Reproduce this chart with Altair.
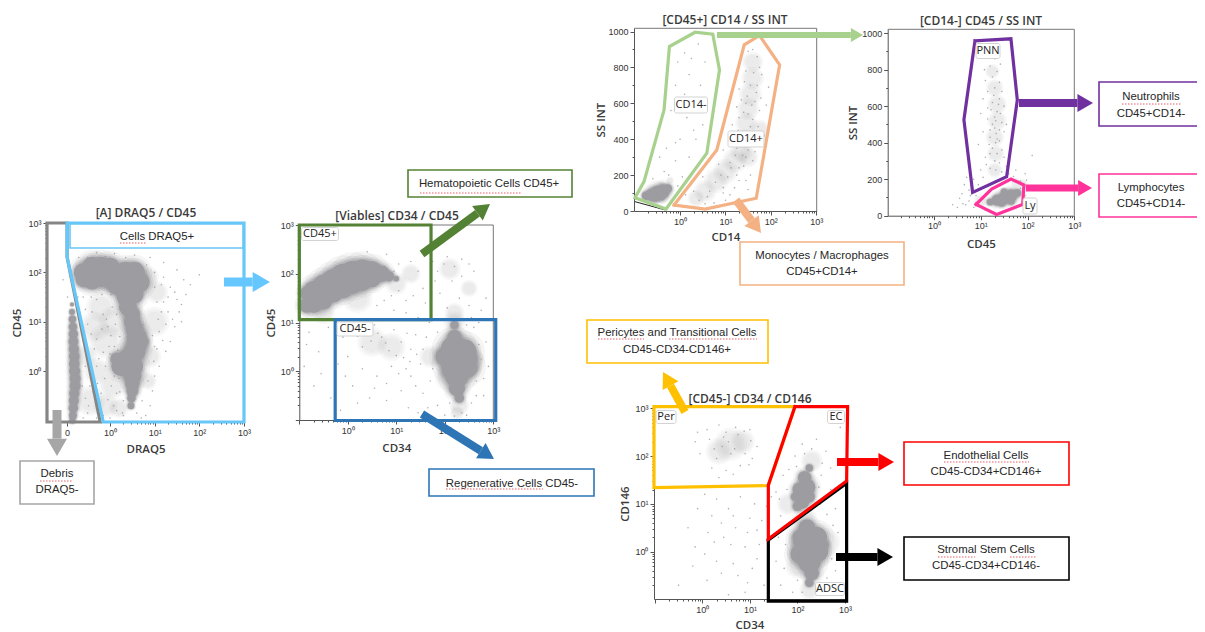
import math
import altair as alt
import pandas as pd

W, H = 1189, 624
DENSE_GREY = "#9c9ca1"
MINOR = [0.301, 0.477, 0.602, 0.699, 0.778, 0.845, 0.903, 0.954]

# ---------- event clouds: x, y, density weight (log10 decades; SS INT in linear units) ----------
a_dense = [(-.6,2.0,200),(-.6,1.85,120),(-.4,2.1,250),(-.4,1.85,220),(-.2,2.1,250),(-.2,1.9,220),(0,2.1,220),(0,1.85,200),
           (.2,1.95,200),(.35,2.0,250),(.55,2.0,250),(.65,1.8,250),(.45,1.75,280),(.25,1.7,200),(.55,1.55,180),(.35,1.5,180),
           (.1,1.7,100),(.4,1.3,180),(.5,1.15,140),(.5,1.0,160),(.55,.85,180),(.6,.7,220),(.6,.55,240),(.55,.4,260),(.4,.25,240),
           (.25,.1,220),(.15,.25,90),(.5,.1,260),(.5,-.1,180),(.5,-.25,120),(.5,-.4,80),(.48,-.55,40),(.47,-.7,25),(.75,.6,60),
           (-.85,1.35,8),(-.85,1.2,18),(-.84,1.05,30),(-.83,.9,40),(-.82,.75,50),(-.82,.6,55),(-.81,.45,60),(-.8,.3,65),
           (-.8,.15,65),(-.79,0,70),(-.78,-.15,70),(-.78,-.3,70),(-.8,-.45,60),(-.81,-.6,55),(-.82,-.75,50),(-.83,-.9,35),(-.84,-1.0,20)]
a_soft = [(-.35,.9,900),(-.1,.6,1200),(-.2,1.3,900),(-.3,0,700),(-.45,-.6,900),(.05,-.3,700),(1,1,900),
          (.9,.3,500),(1.05,1.6,500),(.1,1.0,1000),(.85,1.9,500),(.85,-.2,300),(-.55,.3,500),(-.1,-.7,600),(.2,-.75,400)]
a_specks = [(1.2,1.9),(1.35,1.7),(1.5,1.45),(1.55,1.2),(1.6,1.0),(1.45,.9),(1.3,1.2),(1.2,1.4),(1.1,.8),(1.35,.6),
            (1.25,.4),(1.1,.1),(1.0,-.1),(.95,-.4),(.9,-.7),(.8,-.9),(.7,-.95),(.3,-.9),(.15,-.8),(0,-.95),
            (-.15,-.9),(-.3,-.95),(-.5,-.85),(-.6,-.95),(-.45,-.3),(-.55,.1),(-.35,.45),(-.55,.6),(-.25,.25),(-.1,.1),
            (0,.35),(.1,.5),(-.05,.9),(.15,1.15),(-.15,1.15),(-.4,1.2),(-.3,1.45),(.05,1.3),(-.6,1.5),(1.7,1.55),
            (1.8,1.75),(1.65,1.85),(2.0,1.95),(1.5,2.05),(1.2,2.2),(.9,2.3),(.55,2.35),(.1,2.38),(-.3,2.4),(-.7,2.3),
            (-1.05,1.85),(-.95,1.5),(-.68,1.05),(-.62,-.3),(.15,-.45),(.2,-.15),(-.2,-.45),(.3,-.6),(.75,.95),(1.0,.5),
            (-.5,.95),(-.42,.75),(-.3,.65),(-.18,.85),(-.08,1.05),(.02,.72),(.12,.95),(.22,.7),(.18,.42),(-.02,.5),(-.15,.38),
            (-.3,.1),(-.42,-.1),(-.55,-.55),(-.48,-.7),(-.38,-.42),(-.28,-.25),(-.12,-.15),(.03,-.3),(.1,-.1),(-.05,-.58),
            (-.22,-.65),(.08,-.7),(.22,-.42),(.28,-.85),(.6,-.85),(.72,-.6),(.85,-.2),(.98,.2),(1.05,.45),(1.18,.62),(.95,.72),
            (1.08,1.05),(1.25,.95),(1.4,1.05),(1.15,1.2),(1.05,1.4),(1.3,1.5),(1.45,1.6),(1.6,1.35),(1.0,1.7),(1.15,1.75),
            (1.0,2.0),(.82,2.15),(.35,2.3),(-.1,2.32),(-.5,2.3),(-.72,1.5),(.02,1.55),(-.18,1.55),(-.42,1.5),(-.55,1.25)]

b_dense = [(-.85,1.6,100),(-.85,1.35,120),(-.7,1.65,230),(-.7,1.4,220),(-.5,1.75,280),(-.5,1.45,180),(-.3,1.85,320),(-.3,1.6,200),
           (-.1,1.95,350),(-.1,1.7,220),(.1,2.0,380),(.1,1.8,240),(.3,2.05,320),(.3,1.85,220),(.5,2.05,240),(.5,1.9,170),(.7,2.0,150),
           (.85,1.95,60),(1.0,1.9,15),(2.0,.3,200),(2.2,.45,420),(2.2,.15,420),(2.4,.4,350),(2.4,.1,380),(2.25,-.1,300),(2.5,.25,160),
           (2.1,0,120),(2.25,-.35,150),(2.3,-.55,50),(2.2,.7,120),(2.2,.95,40),(2.55,.05,80)]
b_soft = [(2.2,1.2,400),(2.1,-.1,900),(2.3,-.7,400),(2.6,.2,500),(1.7,.3,500),(.5,.6,900),(.9,.5,800),(1.3,2.0,400),
          (2.1,2.1,500),(1.0,1.8,500),(2.5,1.7,300),(.2,1.5,900),(-.5,1.2,500),(2.2,1.0,500),(2.25,-.85,200)]
b_specks = [(-.8,.8),(-.6,.4),(-.9,.1),(-.7,-.3),(-.85,.55),(-.4,.9),(-.1,.7),(.1,.85),(.3,.5),(.55,.95),(.7,.7),
            (.95,.85),(1.1,.6),(1.3,.45),(1.5,.15),(1.2,.05),(.9,.1),(.6,-.1),(.3,.05),(0,.3),(-.2,.15),(.1,-.3),
            (.45,-.55),(.8,-.6),(1.1,-.4),(1.4,-.3),(1.7,-.2),(1.85,-.7),(2.0,-.9),(2.45,-.9),(2.8,-.5),(2.9,.1),
            (2.85,.6),(2.7,1.0),(2.85,1.5),(2.6,2.05),(2.35,2.3),(2.05,2.35),(1.85,2.05),(1.55,1.7),(1.2,1.45),
            (.9,1.55),(.6,1.35),(.4,2.45),(.8,2.4),(1.05,2.2),(1.45,2.05),(1.9,1.6),(2.3,1.5),(2.05,1.3),(2.5,1.35),
            (2.6,.9),(1.85,.8),(1.9,.45),(1.75,.05),(2.65,-.2),(2.55,-.65),(2.1,-.65),(-.35,-.55),(-.15,-.8),
            (.2,.72),(.38,.82),(.48,.62),(.62,.78),(.78,.58),(.85,.42),(1.0,.32),(1.15,.28),(1.28,.2),(1.42,.35),(1.55,.45),
            (1.62,.7),(1.4,.75),(1.22,.78),(1.68,1.0),(1.45,1.1),(1.2,1.2),(.95,1.25),(.75,1.45),(1.05,1.65),(1.35,1.55),
            (1.6,1.4),(1.8,1.85),(2.15,1.85),(2.35,1.95),(2.5,2.2),(2.2,2.15),(1.98,2.2),(1.75,2.25),(1.3,2.25),(.95,2.05),
            (-.05,-.1),(.2,-.65),(.55,-.35),(.8,-.25),(1.05,-.05),(1.3,-.1),(1.55,-.45),(1.65,-.75),(1.25,-.75),(1.45,-.85),
            (2.7,.55),(2.75,.25),(2.8,-.15),(2.65,-.5),(2.35,-.85),(2.2,-.92),(2.75,1.25),(2.55,1.1),(2.45,.95),(-.55,-.05)]

c_dense = [(-.75,85,40),(-.62,90,90),(-.5,100,120),(-.38,110,110),(-.27,125,40),(-.55,75,40),(-.42,85,50)]
c_soft = [(1.35,330,520),(1.4,400,460),(1.45,490,480),(1.5,570,520),(1.55,650,560),(1.6,740,520),(1.6,830,440),(1.2,280,620),
          (1.0,220,640),(.8,170,620),(.55,110,520),(.35,70,300),(1.5,300,420),(1.75,450,460),(-.22,170,60),(-.4,140,80)]
c_specks = [(-.15,930),(.1,880),(.4,930),(.55,830),(.2,760),(-.1,700),(.45,700),(.3,620),(-.2,560),(.15,520),(.5,480),
            (.35,400),(0,400),(-.3,350),(-.45,300),(-.1,280),(.2,300),(-.35,220),(-.6,180),(.05,190),(1.5,890),(1.7,860),
            (1.45,780),(1.8,760),(1.55,700),(1.95,690),(1.3,680),(1.65,610),(1.25,580),(1.75,560),(1.4,550),(1.55,470),
            (1.15,480),(1.85,420),(1.2,420),(1.65,330),(.95,340),(1.8,260),(.85,260),(1.55,200),(.5,190),(1.3,170),(.95,130),
            (.6,80),(1.5,120),(1.1,90),(.3,110),(.75,45),(1.45,300),(1.3,240),(1.6,420),(1.35,620),(1.5,540),(1.7,700),
            (1.9,590),(1.4,440),(1.5,380),(1.25,350),(1.1,270),(.9,200),
            (1.6,900),(1.75,800),(1.62,770),(1.42,720),(1.68,660),(1.48,640),(1.58,590),(1.78,630),(1.3,520),(1.45,600),
            (1.6,510),(1.72,470),(1.28,450),(1.38,410),(1.52,420),(1.42,360),(1.3,370),(1.38,310),(1.5,340),(1.6,280),
            (1.22,310),(1.12,240),(1.4,250),(1.05,190),(1.25,200),(1.45,170),(.78,160),(.95,100),(.65,110),(1.2,130),
            (.42,60),(.55,40),(1.0,60),(.25,150),(-.05,140),(-.25,200),(.12,90),(-.1,380),(.3,450),(.1,650),(-.05,830),(.25,850)]

d_dense = [(1.2,75,25),(1.35,85,70),(1.5,95,90),(1.65,110,90),(1.78,125,35),(1.45,70,30),(1.65,80,30),(1.5,130,25)]
d_soft = [(1.3,250,240),(1.32,340,320),(1.3,430,360),(1.35,520,400),(1.35,610,400),(1.3,700,320),(1.25,790,220),(1.9,170,120),(1.0,80,180),(1.75,180,110)]
d_specks = [(1.2,820),(1.35,790),(1.1,740),(1.3,700),(1.45,680),(1.05,640),(1.25,620),(1.5,600),(1.35,570),(1.15,530),
            (1.45,510),(1.3,480),(1.05,460),(1.2,430),(1.4,410),(1.25,370),(.95,390),(1.35,340),(1.1,320),(1.4,290),
            (1.2,260),(1.0,250),(1.45,240),(1.6,230),(.85,200),(1.75,250),(1.95,230),(2.1,330),(1.85,190),(2.0,150),
            (.65,170),(.6,120),(.4,60),(.55,95),(.75,80),(.85,45),(1.1,30),(.5,45),(.7,210),(2.05,80),(1.15,590),(1.4,640),
            (1.3,540),(1.2,470),(1.35,420),(1.5,460),(1.25,760),(1.15,680),(1.4,730),(1.3,860),
            (1.28,660),(1.38,610),(1.22,580),(1.42,560),(1.32,520),(1.25,500),(1.4,470),(1.33,450),(1.18,390),(1.32,400),
            (1.45,360),(1.2,340),(1.3,300),(1.5,320),(1.12,280),(1.32,250),(1.55,270),(.95,170),(.75,140),(.9,110),(.68,60),
            (1.85,150),(1.95,110),(1.98,195),(1.7,215),(.62,65),(.78,110),(1.05,210),(1.0,560),(1.55,500),(1.08,800),(1.42,830)]

e_dense = [(2.2,.5,160),(2.15,.25,300),(2.4,.3,250),(2.25,.05,420),(2.05,-.05,200),(2.45,0,200),(2.25,-.2,300),(2.3,-.45,120),
           (2.25,-.65,40),(2.55,.15,60),(2.05,.3,120),(2.15,1.55,100),(2.2,1.35,160),(2.05,1.3,120),(2.25,1.15,70),(2.1,1.05,120),
           (2.0,.95,50),(2.25,1.75,30),(1.95,1.15,40)]
e_soft = [(.6,2.25,1100),(.35,2.1,700),(.85,2.3,600),(2.3,1.9,500),(1.8,1.0,500),(2.6,.2,800),(2.0,-.3,600),(2.25,-.8,400),(2.15,.7,600)]
e_specks = [(-.1,2.5),(.1,2.55),(.35,2.65),(.7,2.6),(1.0,2.55),(1.15,2.2),(1.05,1.95),(.8,1.8),(.5,1.7),(.2,1.75),(-.05,2.05),
            (.15,2.35),(.45,2.4),(.6,2.05),(.9,2.05),(.3,1.95),(.75,2.45),(.05,1.2),(.3,1.1),(.55,.9),(.8,1.15),(1.1,1.0),
            (.4,.6),(.7,.5),(1.0,.7),(1.25,.65),(1.2,.15),(.9,.1),(.6,.15),(.25,.2),(.05,-.05),(-.2,-.3),(.1,-.6),(.4,-.45),
            (.75,-.5),(1.05,-.35),(1.3,-.7),(.9,-.85),(.55,-.9),(-.3,.5),(-.5,-.7),(-.1,.9),(1.6,.3),(1.55,-.2),(1.65,-.7),
            (1.9,-.85),(2.5,-.75),(2.8,-.4),(2.85,.4),(2.8,.9),(2.7,1.3),(2.5,1.6),(2.6,2.1),(2.4,2.35),(2.1,2.25),(1.95,2.0),
            (1.7,1.6),(1.55,1.25),(1.65,.75),(2.9,2.6),
            (.55,2.3),(.42,2.2),(.68,2.15),(.25,2.15),(.5,2.5),(.88,2.52),(1.02,2.32),(.98,1.82),(.65,1.62),(.35,1.55),(-.15,2.3),
            (.2,.75),(.65,.75),(.95,.4),(1.15,.45),(.45,.3),(.12,.4),(-.15,.1),(.3,-.2),(.65,-.25),(.95,-.65),(1.15,-.15),(1.35,.95),
            (1.45,1.15),(1.62,1.1),(1.78,1.3),(1.82,.55),(1.75,.15),(1.72,-.35),(2.0,-.6),(2.1,-.85),(2.4,-.9),(2.62,-.55),(2.72,-.15),
            (2.75,.55),(2.62,.78),(2.48,1.0),(2.45,1.35),(2.52,1.85),(2.3,2.15),(2.15,2.05),(1.98,1.78),(1.82,1.72),(2.7,1.75)]

# ---------- gates: closed polygons in the same data units ----------
a_gates = [("#858585", [(-1.41,3),(-.96,3),(-.96,2.31),(-.22,-1.03),(-1.41,-1.03),(-1.41,3)]),
           ("#66c7f8", [(-.96,3),(3,3),(3,-1.03),(-.15,-1.03),(-.96,2.31),(-.96,3)])]
b_gates = [("#548235", [(-1,3),(1.716,3),(1.716,1.06),(-1,1.06),(-1,3)]),
           ("#2e75b6", [(-.26,1.06),(3.05,1.06),(3.05,-1.01),(-.26,-1.01),(-.26,1.06)])]
c_gates = [("#a9d18e", [(-.993,74),(-.795,164),(-.353,563),(-.235,916),(.331,996),(.721,985),(.868,786),(.589,322),(-.309,11),(-.993,74)]),
           ("#f4b183", [(-.132,33),(.552,11),(1.678,71),(2.193,814),(1.751,978),(1.413,926),(.809,340),(-.132,33)])]
d_gates = [("#7030a0", [(.877,958),(1.646,969),(1.782,634),(1.554,214),(.827,128),(.641,525),(.877,958)]),
           ("#ff3399", [(.898,62),(1.233,146),(1.646,201),(1.924,168),(1.896,62),(1.34,7),(.898,62)])]
e_gates = [("#000000", [(1.388,.244),(3.034,1.431),(3.034,-1.033),(1.388,-1.033),(1.388,.244)]),
           ("#ffc000", [(-1.016,3.036),(1.948,3.036),(1.388,1.382),(-1.016,1.34),(-1.016,3.036)]),
           ("#ff0000", [(1.948,3.036),(3.055,3.036),(3.034,1.479),(1.388,.265),(1.388,1.396),(1.948,3.036)])]

# ---------- annotations on the page ----------
boxes = [(20,94,461,504,"#a6a6a6"),(408,572,170,197,"#548235"),(429,594,469,496,"#2e75b6"),(740,904,242,285,"#f4b183"),
         (1099,1203,82,126,"#7030a0"),(1099,1203,174,217,"#ff3399"),(587,768,320,363,"#ffc000"),
         (904,1069,442,485,"#ff0000"),(904,1069,537,580,"#000000"),(70,243,224,248,"#66c7f8")]
box_text = [(57,474,"Debris"),(57,490,"DRAQ5-"),(489,184,"Hematopoietic Cells CD45+"),(512,484,"Regenerative Cells CD45-"),
            (822,256,"Monocytes / Macrophages"),(822,272,"CD45+CD14+"),(1151,97,"Neutrophils"),(1151,114,"CD45+CD14-"),
            (1151,188,"Lymphocytes"),(1151,204,"CD45+CD14-"),(677,333,"Pericytes and Transitional Cells"),
            (677,350,"CD45-CD34-CD146+"),(986,456,"Endothelial Cells"),(986,472,"CD45-CD34+CD146+"),
            (986,550,"Stromal Stem Cells"),(986,566,"CD45-CD34+CD146-"),(157,237,"Cells DRAQ5+")]
titles = [(146,213,"[A] DRAQ5 / CD45"),(397,216,"[Viables] CD34 / CD45"),(725,20,"[CD45+] CD14 / SS INT"),
          (981,21,"[CD14-] CD45 / SS INT"),(750,399,"[CD45-] CD34 / CD146")]
tags = [(320,234,37,13,"CD45+"),(355,329,36,14,"CD45-"),(691,105,33,16,"CD14-"),(746,139,36,16,"CD14+"),
        (988,51,24,15,"PNN"),(1030,206,14,16,"Ly"),(666,417,20,13,"Per"),(836,417,17,13,"EC"),(830,589,29,13,"ADSC")]
arrows = [(57,410,57,456,9,20,"#a6a6a6"),(224,282,270,282,9,20,"#66c7ff"),(422,254,490,204,8,18,"#548235"),
          (422,414,494,459,8,18,"#2e75b6"),(717,35,863,35,6,14,"#a9d18e"),(736,200,761,233,8,18,"#f4b183"),
          (1019,103,1093,103,8,18,"#7030a0"),(1026,188,1092,188,7,16,"#ff3399"),(685,412,663,372,8,18,"#ffc000"),
          (837,462,894,462,8,18,"#ff0000"),(836,557,893,557,8,18,"#000000")]
squiggles = [(40,73,481),(120,147,243),(420,522,193),(446,543,489),(1122,1181,104),(598,644,339),(669,757,339),
             (944,1029,462),(938,975,557),(1010,1036,557)]


def df3(rows):
    return pd.DataFrame(rows, columns=["x", "y", "w"])


def log_values(first_decade):
    vals = []
    for d in range(first_decade, 3):
        vals.append(d)
        vals += [round(d + m, 3) for m in MINOR]
    return vals + [3]


LOG_LABEL = "datum.value===0?'10⁰':datum.value===1?'10¹':datum.value===2?'10²':datum.value===3?'10³':''"


def axis_for(orient, px, title, values, label_expr, major_test, title_pad):
    offset = -(px - 8) if orient == "left" else (px - 8) - H
    return alt.Axis(orient=orient, offset=offset, title=title, values=values, labelExpr=label_expr,
                    grid=False, labelOverlap=False, labelFlush=False, labelBound=False,
                    domainColor="#555555", tickColor="#555555", domainWidth=1,
                    tickSize={"condition": {"test": major_test, "value": 4}, "value": 2},
                    labelFont="Liberation Sans", labelFontSize=9, labelColor="#333333", labelPadding=2,
                    titleFont="Open Sans", titleFontSize=11.5, titleFontWeight=600, titleColor="#3a3a3a",
                    titlePadding=title_pad)


def panel(xr, yr, xdom, ydom, xaxis, yaxis, dense, soft, specks, gates, frame=True, thin=None):
    xs = alt.Scale(domain=xdom, range=[xr[0] - 8, xr[1] - 8], nice=False, zero=False)
    ys = alt.Scale(domain=ydom, range=[yr[0] - 8, yr[1] - 8], nice=False, zero=False)
    X = alt.X("x:Q", scale=xs, axis=None)
    Y = alt.Y("y:Q", scale=ys, axis=None)
    layers = []
    sp = pd.DataFrame(specks, columns=["x", "y"])
    layers.append(alt.Chart(sp).mark_circle(size=2.6, color=DENSE_GREY, opacity=.8).encode(
        x=alt.X("x:Q", scale=xs, axis=xaxis), y=alt.Y("y:Q", scale=ys, axis=yaxis)))
    for k in (1.0, .7, .45):
        layers.append(alt.Chart(df3(soft)).transform_calculate(s=f"datum.w*{k}").mark_circle(
            color=DENSE_GREY, opacity=.07).encode(x=X, y=Y, size=alt.Size("s:Q", scale=None)))
    for k, op in [(5.0, .1), (3.4, .18), (2.5, .3), (1.8, 1)]:
        layers.append(alt.Chart(df3(dense)).transform_calculate(s=f"datum.w*{k}").mark_circle(
            color=DENSE_GREY, opacity=op).encode(x=X, y=Y, size=alt.Size("s:Q", scale=None)))
    if frame:
        fr = pd.DataFrame({"x": [xdom[0], xdom[1], xdom[1]], "y": [ydom[1], ydom[1], ydom[0]], "i": [0, 1, 2]})
        layers.append(alt.Chart(fr).mark_line(color="#777777", strokeWidth=1).encode(x=X, y=Y, order="i:Q"))
    if thin:
        t = pd.DataFrame(thin, columns=["x", "y"]).assign(i=lambda d: range(len(d)))
        layers.append(alt.Chart(t).mark_line(color="#222222", strokeWidth=1).encode(x=X, y=Y, order="i:Q"))
    for color, pts in gates:
        g = pd.DataFrame(pts, columns=["x", "y"]).assign(i=lambda d: range(len(d)))
        layers.append(alt.Chart(g).mark_line(color=color, strokeWidth=3.2, strokeJoin="miter", strokeCap="square").encode(
            x=X, y=Y, order="i:Q"))
    return layers


SS_VALUES = list(range(0, 1001, 100))
SS_LABEL = "datum.value%200===0?datum.value:''"

p_a = panel((47, 244), (422, 223), [-1.41, 3], [-1.03, 3],
            axis_for("bottom", 422, "DRAQ5", [-.96] + log_values(0),
                     "datum.value===-.96?'0':" + LOG_LABEL, "datum.value%1===0||datum.value===-.96", 6),
            axis_for("left", 47, "CD45", log_values(-1)[9:], LOG_LABEL, "datum.value%1===0", 5),
            a_dense, a_soft, a_specks, a_gates, frame=False)
p_b = panel((299.3, 493.3), (420, 225), [-1, 3], [-1, 3],
            axis_for("bottom", 420, "CD34", log_values(-1), LOG_LABEL, "datum.value%1===0", 7),
            axis_for("left", 299.3, "CD45", log_values(-1), LOG_LABEL, "datum.value%1===0", 4),
            b_dense, b_soft, b_specks, b_gates)
p_c = panel((634, 816.7), (211, 28.3), [-1.015, 3.01], [0, 1018],
            axis_for("bottom", 211, "CD14", log_values(-1)[1:], LOG_LABEL, "datum.value%1===0", 5),
            axis_for("left", 634, "SS INT", SS_VALUES, SS_LABEL, "datum.value%200===0", 1),
            c_dense, c_soft, c_specks, c_gates, thin=[(-.993, 52), (-.33, 6)])
p_d = panel((887.7, 1074.3), (215.7, 29.3), [-.988, 3], [0, 1021],
            axis_for("bottom", 215.7, "CD45", log_values(-1)[1:], LOG_LABEL, "datum.value%1===0", 8),
            axis_for("left", 887.7, "SS INT", SS_VALUES, SS_LABEL, "datum.value%200===0", 3),
            d_dense, d_soft, d_specks, d_gates)
p_e = panel((654, 845), (599, 408.3), [-1.016, 3], [-.99, 3],
            axis_for("bottom", 599, "CD34", log_values(-1), LOG_LABEL, "datum.value%1===0", 5),
            axis_for("left", 654, "CD146", log_values(-1), LOG_LABEL, "datum.value%1===0", 4),
            e_dense, e_soft, e_specks, e_gates, frame=False)

# ---------- overlay in page coordinates ----------
PX = alt.Scale(domain=[8, 8 + W], range=[0, W], nice=False, zero=False)
PY = alt.Scale(domain=[8, 8 + H], range=[0, H], nice=False, zero=False)
OX = alt.X("x:Q", scale=PX, axis=None)
OY = alt.Y("y:Q", scale=PY, axis=None)

box_df = pd.DataFrame(boxes, columns=["x", "x2", "y", "y2", "c"])
box_layer = alt.Chart(box_df).mark_rect(fill="white", strokeWidth=1.6).encode(
    x=OX, x2="x2:Q", y=OY, y2="y2:Q", stroke=alt.Stroke("c:N", scale=None))

shafts, heads = [], []
for x0, y0, x1, y1, sw, hw, c in arrows:
    L = math.hypot(x1 - x0, y1 - y0)
    ux, uy = (x1 - x0) / L, (y1 - y0) / L
    hlen = hw * 0.866
    shafts.append(dict(x=x0, y=y0, x2=x1 - ux * hlen, y2=y1 - uy * hlen, sw=sw, c=c))
    heads.append(dict(x=x1 - ux * hlen / 2, y=y1 - uy * hlen / 2, s=hw * hw,
                      a=(math.degrees(math.atan2(ux, -uy)) + 360) % 360, c=c))
shaft_layer = alt.Chart(pd.DataFrame(shafts)).mark_rule().encode(
    x=OX, x2="x2:Q", y=OY, y2="y2:Q", strokeWidth=alt.StrokeWidth("sw:Q", scale=None),
    color=alt.Color("c:N", scale=None))
head_layer = alt.Chart(pd.DataFrame(heads)).mark_point(shape="triangle-up", filled=True, opacity=1).encode(
    x=OX, y=OY, size=alt.Size("s:Q", scale=None), angle=alt.Angle("a:Q", scale=None),
    color=alt.Color("c:N", scale=None))

tag_df = pd.DataFrame(tags, columns=["x", "y", "w", "h", "t"]).assign(
    l=lambda d: d.x - d.w / 2, r=lambda d: d.x + d.w / 2, b=lambda d: d.y - d.h / 2, e=lambda d: d.y + d.h / 2)
tag_rect = alt.Chart(tag_df).mark_rect(fill="white", stroke="#c8c8c8", strokeWidth=.8, cornerRadius=2).encode(
    x=alt.X("l:Q", scale=PX, axis=None), x2="r:Q", y=alt.Y("b:Q", scale=PY, axis=None), y2="e:Q")
tag_text = alt.Chart(tag_df).mark_text(font="Open Sans", fontSize=11, color="#222222").encode(x=OX, y=OY, text="t:N")

box_texts = alt.Chart(pd.DataFrame(box_text, columns=["x", "y", "t"])).mark_text(
    font="Liberation Sans", fontSize=11.4, color="#262626").encode(x=OX, y=OY, text="t:N")
title_texts = alt.Chart(pd.DataFrame(titles, columns=["x", "y", "t"])).mark_text(
    font="Open Sans", fontSize=12, fontWeight=600, color="#3a3a3a").encode(x=OX, y=OY, text="t:N")
squiggle_layer = alt.Chart(pd.DataFrame(squiggles, columns=["x", "x2", "y"])).mark_rule(
    color="#e8606a", strokeWidth=1, strokeDash=[1.5, 1.5]).encode(x=OX, x2="x2:Q", y=OY)

overlay = [box_layer, shaft_layer, head_layer, tag_rect, tag_text, box_texts, title_texts, squiggle_layer]

chart = alt.layer(*p_a, *p_b, *p_c, *p_d, *p_e, *overlay).resolve_scale(x="independent", y="independent").properties(
    width=W, height=H, autosize=alt.AutoSizeParams(type="none"), padding=0, background="white"
).configure_view(stroke=None)

chart.save("out.html", embed_options={"renderer": "svg", "actions": False})
